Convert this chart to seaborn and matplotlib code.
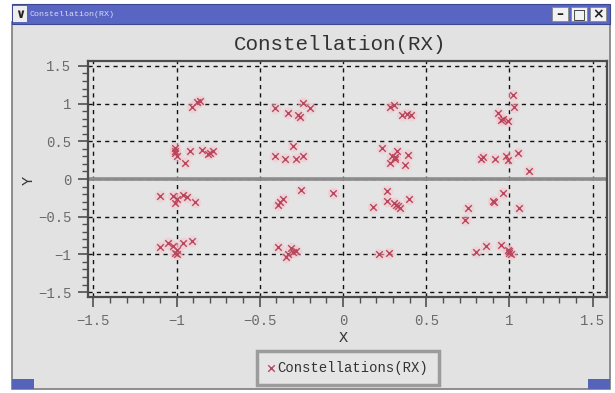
import numpy as np
import pandas as pd
import matplotlib
matplotlib.use("Agg")
import matplotlib.pyplot as plt
import seaborn as sns
from matplotlib.patches import Rectangle
from matplotlib.ticker import MultipleLocator

# ---- data (received constellation points) ----
i_vals = [
    -0.91, -0.88, -0.86,
    -1.01, -1.01, -1.01, -1.00, -0.92, -0.95, -0.85, -0.81, -0.78, -0.80,
    -0.41, -0.33, -0.24, -0.20, -0.26, -0.27,
    -0.30, -0.41, -0.35, -0.28, -0.24,
    0.285, 0.305, 0.355, 0.385, 0.41,
    0.235, 0.325, 0.295, 0.315, 0.39, 0.375, 0.285, 0.31,
    1.02, 1.03, 0.93, 0.95, 0.99, 0.96,
    0.83, 0.915, 0.98, 0.99, 1.05, 1.12, 0.84,
    -1.10, -1.02, -1.01, -0.96, -0.94, -0.89, -1.00,
    -1.10, -1.05, -1.02, -1.01, -1.00, -0.96, -0.91, -1.00,
    -0.39, -0.36, -0.25, -0.06, -0.38,
    -0.39, -0.34, -0.31, -0.28, -0.33, -0.30,
    0.265, 0.265, 0.18, 0.305, 0.33, 0.345, 0.395, 0.32,
    0.96, 0.90, 0.91, 1.06, 0.75, 0.73,
    0.215, 0.275,
    0.80, 0.86, 0.95, 0.99, 1.00, 1.01, 1.00,
]
q_vals = [
    0.96, 1.02, 1.04,
    0.41, 0.37, 0.34, 0.31, 0.375, 0.21, 0.39, 0.33, 0.37, 0.35,
    0.94, 0.88, 1.01, 0.94, 0.82, 0.85,
    0.44, 0.30, 0.265, 0.265, 0.30,
    0.96, 0.98, 0.85, 0.86, 0.85,
    0.41, 0.375, 0.30, 0.27, 0.32, 0.185, 0.21, 0.29,
    1.12, 0.96, 0.87, 0.78, 0.77, 0.80,
    0.27, 0.26, 0.30, 0.25, 0.35, 0.10, 0.29,
    -0.23, -0.23, -0.32, -0.21, -0.24, -0.30, -0.27,
    -0.905, -0.85, -0.89, -0.98, -0.94, -0.85, -0.825, -1.00,
    -0.34, -0.27, -0.15, -0.19, -0.31,
    -0.905, -1.04, -0.92, -0.95, -0.99, -0.97,
    -0.16, -0.29, -0.37, -0.32, -0.36, -0.38, -0.26, -0.34,
    -0.185, -0.295, -0.31, -0.39, -0.39, -0.54,
    -1.00, -0.98,
    -0.97, -0.89, -0.87, -0.94, -0.98, -1.00, -0.96,
]
tick_values = [-1.5, -1, -0.5, 0, 0.5, 1, 1.5]
tick_labels = ["\u22121.5", "\u22121", "\u22120.5", "0", "0.5", "1", "1.5"]
series_name = "Constellations(RX)"
title_text = "Constellation(RX)"

df = pd.DataFrame({"X": i_vals, "Y": q_vals})

sns.set_theme(style="white")
plt.rcParams["font.family"] = ["Liberation Mono", "DejaVu Sans"]

W, H = 615, 393
fig = plt.figure(figsize=(W / 100, H / 100), dpi=100, facecolor="white")

def fr(x0, y0, x1, y1):
    return (x0 / W, 1 - y1 / H), (x1 - x0) / W, (y1 - y0) / H

# window body
xy, w, h = fr(12, 22, 610, 389)
fig.add_artist(Rectangle(xy, w, h, transform=fig.transFigure, facecolor="#e2e2e2",
                         edgecolor="#7c7c7c", lw=1.2, zorder=0))
# title bar
xy, w, h = fr(12, 4, 610, 24)
fig.add_artist(Rectangle(xy, w, h, transform=fig.transFigure, facecolor="#5865c2",
                         edgecolor="#3c4790", lw=0.8, zorder=1))
xy, w, h = fr(13, 6, 27, 22)
fig.add_artist(Rectangle(xy, w, h, transform=fig.transFigure, facecolor="#eeeeee",
                         edgecolor="none", zorder=2))
fig.text(20 / W, 1 - 14 / H, "\u2228", ha="center", va="center", fontsize=9,
         color="#222222", fontweight="bold", family=["DejaVu Sans"], zorder=3)
fig.text(30 / W, 1 - 14 / H, "Constellation(RX)", ha="left", va="center",
         fontsize=6, color="#d8dcf4", zorder=3)
for x0, glyph in [(552, "\u2013"), (571, "\u25a1"), (590, "\u00d7")]:
    xy, w, h = fr(x0, 7, x0 + 16, 21)
    fig.add_artist(Rectangle(xy, w, h, transform=fig.transFigure, facecolor="#f2f2f2",
                             edgecolor="#888888", lw=0.6, zorder=2))
    fig.text((x0 + 8) / W, 1 - 14 / H, glyph, ha="center", va="center", fontsize=10,
             fontweight="bold", color="#222222", family=["DejaVu Sans"], zorder=3)
# bottom corners
for x0 in (12, 588):
    xy, w, h = fr(x0, 379, x0 + 22, 389)
    fig.add_artist(Rectangle(xy, w, h, transform=fig.transFigure, facecolor="#5563b8",
                             edgecolor="none", zorder=1))

# plot axes
ax = fig.add_axes([88 / W, 1 - 297 / H, 519 / W, 236 / H])
ax.set_facecolor("#e4e4e4")

ax.grid(True, which="major", color="#111111", linestyle=(0, (3, 3)), linewidth=1.0,
        zorder=1)
ax.set_axisbelow(True)
ax.axhline(0, color="#8c8c8c", lw=2.6, zorder=2)
sns.scatterplot(data=df, x="X", y="Y", ax=ax, marker="o", s=70, color="#f3c6ce",
                alpha=0.55, linewidth=0, legend=False, zorder=3)
sns.scatterplot(data=df, x="X", y="Y", ax=ax, marker="x", s=22, color="#b8465c",
                linewidth=1.0, label=series_name, zorder=4)

ax.set_xlim(-1.532, 1.586)
ax.set_ylim(-1.565, 1.565)
ax.set_xticks(tick_values, tick_labels)
ax.set_yticks(tick_values, tick_labels)
ax.xaxis.set_minor_locator(MultipleLocator(0.1))
ax.yaxis.set_minor_locator(MultipleLocator(0.1))
ax.tick_params(which="major", direction="out", length=7, width=1.2, color="#505050",
               labelsize=10, labelcolor="#6a6a6a", bottom=True, left=True, pad=5)
ax.tick_params(which="minor", direction="out", length=4, width=1.0, color="#505050",
               bottom=True, left=True)
for sp in ax.spines.values():
    sp.set_color("#4c4c4c")
    sp.set_linewidth(1.6)
    sp.set_zorder(5)

ax.set_xlabel("X", fontsize=11, color="#333333")
ax.set_ylabel("Y", fontsize=11, color="#333333")
ax.xaxis.set_label_coords((343 - 88) / 519, (297 - 331) / 236)
ax.yaxis.set_label_coords((36 - 88) / 519, (297 - 180) / 236)

fig.text(340 / W, 1 - 45 / H, title_text, ha="center", va="center", fontsize=15,
         color="#333333")

handles, labels = ax.get_legend_handles_labels()
if ax.get_legend():
    ax.get_legend().remove()
leg = fig.legend(handles, labels, loc="center", bbox_to_anchor=(348 / W, 1 - 368 / H),
                 frameon=True, fancybox=False, fontsize=10, handlelength=0.4,
                 handletextpad=0.3, borderpad=0.75, borderaxespad=0)
frame = leg.get_frame()
frame.set_facecolor("#e6e6e6")
frame.set_edgecolor("#8a8a8a")
frame.set_linewidth(2.5)
for t in leg.get_texts():
    t.set_color("#333333")

fig.savefig("out.png", dpi=100, facecolor="white")
